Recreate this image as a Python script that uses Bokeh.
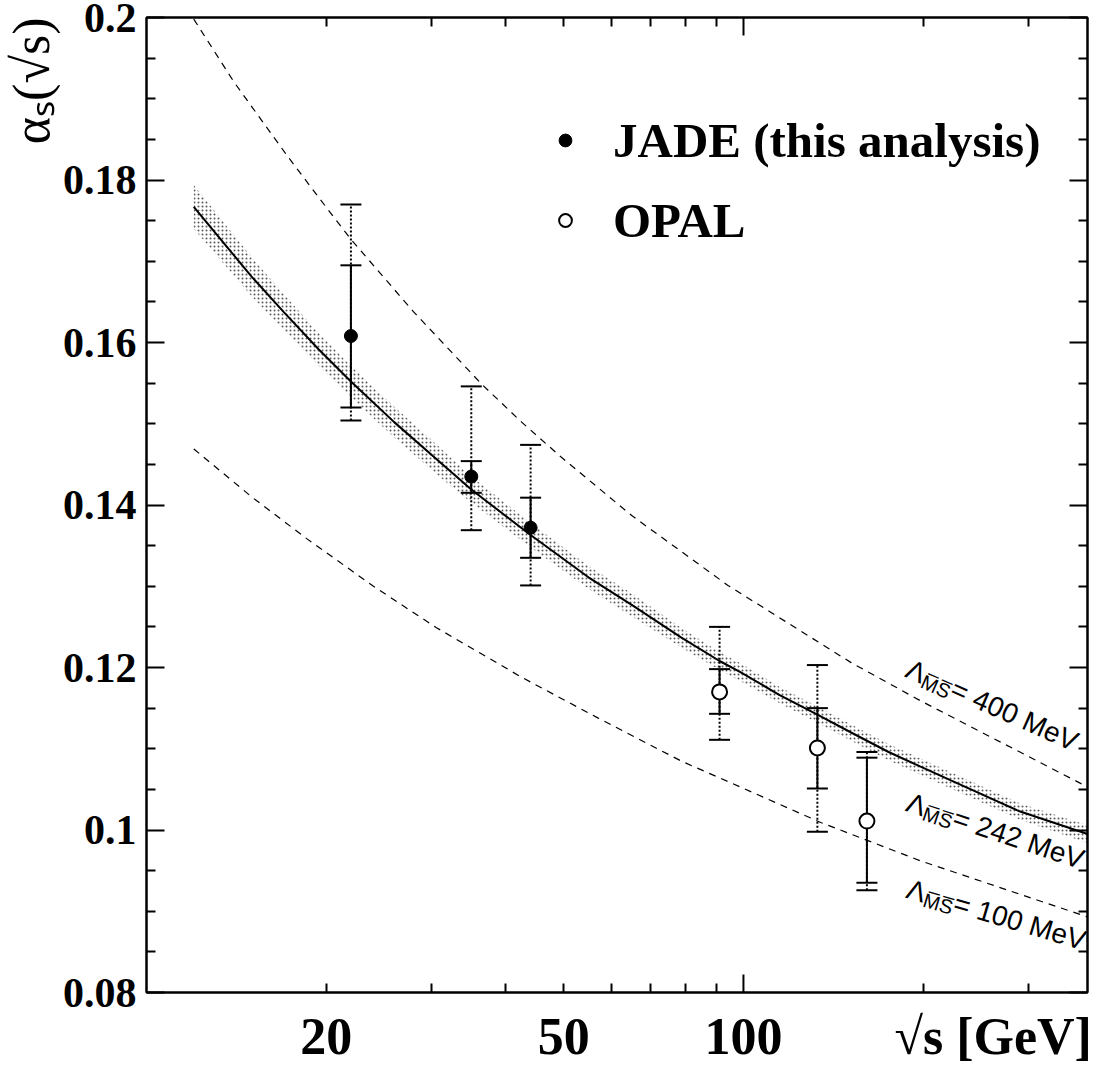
import math
from bokeh.plotting import figure
from bokeh.models import (FixedTicker, LogAxis, LinearAxis, Label, Legend, LegendItem, Title)
from bokeh.embed import file_html
from bokeh.resources import INLINE

# ---------------- data ----------------
jade_sqrt_s = [22.0, 35.0, 44.0]
jade_alpha = [0.1608, 0.1435, 0.1372]
jade_stat_lo = [0.1520, 0.1415, 0.1335]
jade_stat_hi = [0.1695, 0.1454, 0.1409]
jade_tot_lo = [0.1504, 0.1369, 0.1301]
jade_tot_hi = [0.1770, 0.1546, 0.1474]

opal_sqrt_s = [91.2, 133.0, 161.0]
opal_alpha = [0.1170, 0.1101, 0.1011]
opal_stat_lo = [0.1143, 0.1051, 0.0935]
opal_stat_hi = [0.1198, 0.1150, 0.1089]
opal_tot_lo = [0.1111, 0.0998, 0.0926]
opal_tot_hi = [0.1250, 0.1203, 0.1096]

fit_sqrt_s = [12.0, 15.0, 17.0, 19.4, 22.0, 26.0, 31.2, 35.0, 44.0, 55.0, 65.0, 78.6,
              91.2, 99.0, 115.0, 133.0, 151.5, 175.0, 198.0, 222.6, 290.0, 377.0]
fit_alpha = [0.1767, 0.1681, 0.1637, 0.1592, 0.1552, 0.1502, 0.1451, 0.1419, 0.1363, 0.1311, 0.1277, 0.1237,
             0.1208, 0.1194, 0.1166, 0.1142, 0.1120, 0.1096, 0.1078, 0.1061, 0.1023, 0.0995]
fit_band_lo = [0.1740, 0.1657, 0.1615, 0.1572, 0.1533, 0.1483, 0.1433, 0.1403, 0.1348, 0.1297, 0.1263, 0.1225,
               0.1197, 0.1183, 0.1156, 0.1132, 0.1110, 0.1086, 0.1068, 0.1051, 0.1013, 0.0984]
fit_band_hi = [0.1794, 0.1705, 0.1659, 0.1612, 0.1571, 0.1521, 0.1469, 0.1435, 0.1378, 0.1325, 0.1291, 0.1249,
               0.1219, 0.1205, 0.1176, 0.1152, 0.1130, 0.1106, 0.1088, 0.1071, 0.1033, 0.1006]

lam400_sqrt_s = [12.0, 14.0, 17.2, 19.5, 22.0, 28.0, 36.4, 42.5, 49.5, 65.0, 94.2, 151.5, 198.0, 377.0]
lam400_alpha = [0.1998, 0.1921, 0.1830, 0.1777, 0.1727, 0.1638, 0.1549, 0.1502, 0.1459, 0.1387, 0.1301,
                0.1206, 0.1159, 0.1053]

lam100_sqrt_s = [12.0, 15.0, 18.6, 24.0, 30.6, 42.5, 57.0, 78.6, 135.0, 198.0, 377.0]
lam100_alpha = [0.1469, 0.1410, 0.1358, 0.1300, 0.1249, 0.1188, 0.1138, 0.1085, 0.1009, 0.0962, 0.0893]

lambda_labels = ["400 MeV", "242 MeV", "100 MeV"]
x_tick_labels = {20: "20", 50: "50", 100: "100"}
x_minor = [20, 30, 40, 50, 60, 70, 80, 90, 200, 300]
x_title = "\u221as [GeV]"
x_title_pos = 262          # where the x title is centred (axis units)
y_major = [0.08, 0.10, 0.12, 0.14, 0.16, 0.18, 0.20]
y_tick_labels = ["0.08", "0.1", "0.12", "0.14", "0.16", "0.18", "0.2"]
y_title = "\u03b1\u209b(\u221as)"
legend_labels = ["JADE (this analysis)", "OPAL"]

# ---------------- layout ----------------
W, H = 1096, 1072
FL, FT, FW, FH = 146, 17, 941, 975
FB = FT + FH

p = figure(width=W, height=H, frame_width=FW, frame_height=FH,
           x_axis_type="log", x_range=(10, 377), y_range=(0.08, 0.2),
           output_backend="svg", toolbar_location=None,
           min_border_left=FL, min_border_right=W - FL - FW,
           min_border_top=FT, min_border_bottom=H - FB)
p.background_fill_color = "white"
p.border_fill_color = "white"
p.outline_line_color = "black"
p.outline_line_width = 2
p.xgrid.visible = False
p.ygrid.visible = False

serif = "Liberation Serif"
sans = "Liberation Sans"


def style_axis(ax, major_in, minor_in):
    ax.major_tick_in = major_in
    ax.major_tick_out = 0
    ax.minor_tick_in = minor_in
    ax.minor_tick_out = 0
    ax.axis_line_width = 2
    ax.axis_line_color = "black"
    ax.major_tick_line_width = 2
    ax.minor_tick_line_width = 2


# bottom axis: labels at 20, 50, 100 and the axis title at the right end
xa = p.xaxis[0]
xa.ticker = FixedTicker(ticks=list(x_tick_labels.keys()) + [x_title_pos], minor_ticks=x_minor)
overrides = {k: v for k, v in x_tick_labels.items()}
overrides[x_title_pos] = x_title
xa.major_label_overrides = overrides
xa.major_label_text_font = serif
xa.major_label_text_font_style = "bold"
xa.major_label_text_font_size = "52px"
xa.major_label_text_color = "black"
xa.major_label_standoff = 15
style_axis(xa, 0, 9)

# left axis
ya = p.yaxis[0]
y_minor = [round(v + k * 0.005, 4) for v in y_major[:-1] for k in (1, 2, 3)]
ya.ticker = FixedTicker(ticks=y_major, minor_ticks=y_minor)
ya.major_label_overrides = {v: t for v, t in zip(y_major, y_tick_labels)}
ya.major_label_text_font = serif
ya.major_label_text_font_style = "bold"
ya.major_label_text_font_size = "42px"
ya.major_label_text_color = "black"
ya.major_label_standoff = 10
style_axis(ya, 18, 9)

# y-axis title placed at the top of the left border
p.add_layout(Title(text=y_title, align="right", text_font=serif, text_font_style="normal",
                   text_font_size="52px", text_color="black", standoff=0, offset=0), "left")

# top axis (ticks only)
top = LogAxis(ticker=FixedTicker(ticks=[100], minor_ticks=x_minor),
              major_label_text_font_size="1px", major_label_text_alpha=0, major_label_standoff=0)
style_axis(top, 18, 9)
p.add_layout(top, "above")
# right axis (ticks only)
right = LinearAxis(ticker=FixedTicker(ticks=y_major, minor_ticks=y_minor),
                   major_label_text_font_size="1px", major_label_text_alpha=0, major_label_standoff=0)
style_axis(right, 18, 9)
p.add_layout(right, "right")

# longer tick at 100 on the bottom axis
long_x_ticks = [100]
p.segment(x0=long_x_ticks, y0=[0.08], x1=long_x_ticks, y1=[0.08 + 18 * 0.12 / FH],
          line_color="black", line_width=2)

# ---------------- curves ----------------
p.varea(x=fit_sqrt_s, y1=fit_band_lo, y2=fit_band_hi, fill_alpha=0,
        hatch_pattern="dot", hatch_scale=4, hatch_color="black", hatch_alpha=0.65, hatch_weight=1)
p.line(fit_sqrt_s, fit_alpha, line_color="black", line_width=2)
p.line(lam400_sqrt_s, lam400_alpha, line_color="black", line_width=1.2, line_dash="7 6")
p.line(lam100_sqrt_s, lam100_alpha, line_color="black", line_width=1.2, line_dash="7 6")


# ---------------- error bars ----------------
def errbars(xs, lo, hi, dash):
    p.segment(x0=xs, y0=lo, x1=xs, y1=hi, line_color="black", line_width=2, line_dash=dash)
    p.scatter(xs, lo, marker="dash", size=21, line_color="black", line_width=2)
    p.scatter(xs, hi, marker="dash", size=21, line_color="black", line_width=2)


errbars(jade_sqrt_s, jade_tot_lo, jade_tot_hi, "2 2")
errbars(jade_sqrt_s, jade_stat_lo, jade_stat_hi, "solid")
errbars(opal_sqrt_s, opal_tot_lo, opal_tot_hi, "2 2")
errbars(opal_sqrt_s, opal_stat_lo, opal_stat_hi, "solid")

jade_r = p.scatter(jade_sqrt_s, jade_alpha, marker="circle", size=13,
                   fill_color="black", line_color="black", line_width=1)
opal_r = p.scatter(opal_sqrt_s, opal_alpha, marker="circle", size=15,
                   fill_color="white", line_color="black", line_width=2)

# ---------------- legend ----------------
leg = Legend(items=[LegendItem(label=legend_labels[0], renderers=[jade_r]),
                    LegendItem(label=legend_labels[1], renderers=[opal_r])],
             location=(549 - FL, FB - 260), orientation="vertical",
             label_text_font=serif, label_text_font_style="bold", label_text_color="black",
             label_text_font_size="49px", label_height=80, glyph_height=80,
             glyph_width=32, label_standoff=32, spacing=0, padding=0, margin=0,
             border_line_alpha=0, background_fill_alpha=0)
p.add_layout(leg, "center")


# ---------------- Lambda labels along the curves ----------------
def slabel(sx, sy, text, size, font=sans, angle=0.0):
    p.add_layout(Label(x=sx - FL, y=FB - sy, x_units="screen", y_units="screen",
                       text=text, text_font=font, text_font_style="normal",
                       text_font_size=f"{size}px", text_color="black",
                       angle=angle, text_align="left", text_baseline="alphabetic"))


def lam_label(ax, ay, theta_deg, txt):
    th = math.radians(theta_deg)
    u = (math.cos(th), math.sin(th))
    n = (-math.sin(th), math.cos(th))
    pieces = [("\u039b", 28, 0.0, 0.0), ("M\u0305S\u0305", 20, 18.7, 6.0), ("= " + txt, 28, 49.0, 0.0)]
    for t, s, along, drop in pieces:
        sx = ax + along * u[0] + drop * n[0]
        sy = ay + along * u[1] + drop * n[1]
        slabel(sx, sy, t, s, angle=-th)


lam_label(907, 667, 24, lambda_labels[0])
lam_label(907, 801, 18.5, lambda_labels[1])
lam_label(907, 888, 16.5, lambda_labels[2])

open("out.html", "w").write(file_html(p, INLINE))
